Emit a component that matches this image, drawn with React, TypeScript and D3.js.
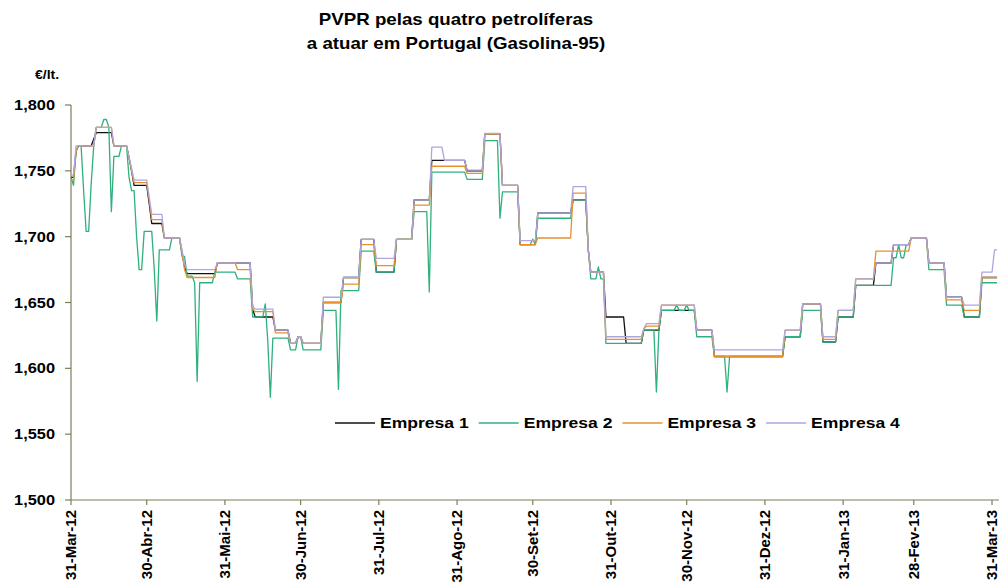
import * as d3 from 'd3';

// ── Layout ────────────────────────────────────────────────────────────────────
const VW = 999;
const VH = 587;
const X_LEFT = 71;
const X_RIGHT = 992;
const Y_TOP = 105;
const Y_BOT = 500;
const SX = 1.17; // the source picture is stretched a bit horizontally
const FONT = '"Liberation Sans", Arial, sans-serif';
const AXIS = '#7d7d5c';

// ── Data: [days after 31-Mar-12, €/lt] at each price change ──────────────────
const START = new Date(2012, 2, 31);
const END_DAY = 367;

const EMPRESA_1: [number, number][] = [
  [0, 1.745], [2, 1.765], [3, 1.769], [9, 1.774], [10, 1.779], [17, 1.769], [23, 1.76], [24, 1.75],
  [25, 1.739], [31, 1.725], [32, 1.71], [37, 1.699], [44, 1.688], [45, 1.677], [46, 1.672], [58, 1.68],
  [72, 1.645], [73, 1.639], [81, 1.629], [87, 1.619], [90, 1.624], [92, 1.619], [100, 1.65], [108, 1.669],
  [115, 1.698], [121, 1.673], [129, 1.698], [136, 1.728], [143, 1.758], [157, 1.75], [164, 1.778],
  [171, 1.739], [178, 1.694], [185, 1.718], [199, 1.728], [205, 1.69], [206, 1.673], [212, 1.639],
  [220, 1.619], [227, 1.629], [234, 1.644], [248, 1.629], [255, 1.609], [283, 1.624], [290, 1.649],
  [298, 1.62], [304, 1.639], [311, 1.663], [319, 1.68], [326, 1.694], [333, 1.699], [340, 1.68],
  [347, 1.654], [354, 1.639], [361, 1.669],
];

const EMPRESA_2: [number, number][] = [
  [0, 1.745], [1, 1.739], [2, 1.765], [3, 1.769], [5, 1.735], [6, 1.704], [8, 1.74], [9, 1.769],
  [10, 1.783], [13, 1.789], [15, 1.783], [16, 1.719], [17, 1.761], [20, 1.769], [23, 1.745], [24, 1.735],
  [26, 1.7], [27, 1.675], [29, 1.704], [33, 1.675], [34, 1.636], [35, 1.69], [40, 1.699], [44, 1.685],
  [46, 1.67], [49, 1.665], [50, 1.59], [51, 1.665], [57, 1.673], [66, 1.668], [72, 1.639], [77, 1.649],
  [78, 1.62], [79, 1.578], [80, 1.623], [87, 1.614], [90, 1.624], [92, 1.614], [100, 1.644], [106, 1.584],
  [107, 1.659], [115, 1.689], [121, 1.673], [129, 1.698], [136, 1.719], [142, 1.658], [143, 1.749],
  [157, 1.7435], [164, 1.773], [170, 1.714], [171, 1.734], [178, 1.694], [183, 1.698], [184, 1.694],
  [185, 1.714], [199, 1.728], [205, 1.69], [206, 1.668], [209, 1.677], [210, 1.668], [212, 1.619],
  [227, 1.629], [232, 1.582], [233, 1.629], [234, 1.644], [240, 1.648], [241, 1.644], [244, 1.648],
  [245, 1.644], [248, 1.624], [255, 1.609], [260, 1.582], [261, 1.609], [283, 1.624], [290, 1.644],
  [298, 1.62], [304, 1.639], [311, 1.663], [326, 1.684], [328, 1.694], [329, 1.684], [331, 1.694],
  [333, 1.699], [340, 1.675], [347, 1.648], [354, 1.639], [361, 1.665],
];

const EMPRESA_3: [number, number][] = [
  [0, 1.743], [2, 1.765], [3, 1.769], [10, 1.783], [17, 1.769], [23, 1.76], [24, 1.75], [25, 1.741],
  [31, 1.728], [32, 1.713], [37, 1.699], [44, 1.688], [45, 1.675], [46, 1.669], [58, 1.68], [66, 1.675],
  [72, 1.645], [73, 1.643], [81, 1.627], [87, 1.619], [90, 1.624], [92, 1.619], [100, 1.65], [108, 1.664],
  [115, 1.694], [121, 1.678], [129, 1.698], [136, 1.724], [143, 1.7535], [157, 1.748], [164, 1.778],
  [171, 1.739], [178, 1.694], [185, 1.699], [199, 1.733], [205, 1.69], [206, 1.673], [212, 1.622],
  [227, 1.63], [228, 1.632], [234, 1.648], [248, 1.629], [255, 1.609], [283, 1.629], [290, 1.649],
  [298, 1.622], [304, 1.644], [311, 1.668], [319, 1.689], [333, 1.699], [340, 1.68], [347, 1.652],
  [354, 1.644], [361, 1.669],
];

const EMPRESA_4: [number, number][] = [
  [0, 1.747], [2, 1.769], [10, 1.783], [17, 1.769], [23, 1.76], [24, 1.752], [25, 1.743], [31, 1.73],
  [32, 1.717], [37, 1.699], [44, 1.69], [45, 1.679], [46, 1.675], [58, 1.68], [72, 1.647], [73, 1.645],
  [81, 1.629], [87, 1.619], [90, 1.624], [92, 1.619], [100, 1.654], [108, 1.669], [115, 1.698],
  [121, 1.6835], [129, 1.698], [136, 1.728], [143, 1.768], [148, 1.758], [157, 1.7505], [164, 1.7785],
  [171, 1.739], [178, 1.697], [185, 1.718], [199, 1.738], [205, 1.69], [206, 1.673], [212, 1.624],
  [227, 1.63], [228, 1.634], [234, 1.648], [248, 1.629], [255, 1.614], [283, 1.629], [290, 1.649],
  [298, 1.624], [304, 1.644], [311, 1.668], [319, 1.68], [326, 1.694], [333, 1.699], [340, 1.68],
  [347, 1.654], [354, 1.648], [361, 1.673], [366, 1.69],
];

const SERIES_NAMES = ['Empresa 1', 'Empresa 2', 'Empresa 3', 'Empresa 4'];
const SERIES_DATA = [EMPRESA_1, EMPRESA_2, EMPRESA_3, EMPRESA_4];
const SERIES_COLORS = ['#111111', '#2fb07c', '#e8902e', '#aea6dc'];

const Y_TICKS = [1.5, 1.55, 1.6, 1.65, 1.7, 1.75, 1.8];
const X_TICK_DATES = [
  '2012-03-31', '2012-04-30', '2012-05-31', '2012-06-30', '2012-07-31', '2012-08-31', '2012-09-30',
  '2012-10-31', '2012-11-30', '2012-12-31', '2013-01-31', '2013-02-28', '2013-03-31',
];
const X_TICK_LABELS = [
  '31-Mar-12', '30-Abr-12', '31-Mai-12', '30-Jun-12', '31-Jul-12', '31-Ago-12', '30-Set-12',
  '31-Out-12', '30-Nov-12', '31-Dez-12', '31-Jan-13', '28-Fev-13', '31-Mar-13',
];

// ── Scales ────────────────────────────────────────────────────────────────────
const parse = d3.timeParse('%Y-%m-%d');
const dayDate = (d: number) => d3.timeDay.offset(START, d);
const x = d3.scaleTime().domain([START, parse('2013-03-31') as Date]).range([X_LEFT, X_RIGHT]);
const y = d3.scaleLinear().domain([1.5, 1.8]).range([Y_BOT, Y_TOP]);
const fmtY = (v: number) => d3.format('.3f')(v).replace('.', ',');

// change points -> path points; each change takes one day (like the daily source series)
function stepPoints(pts: [number, number][]): [number, number][] {
  const out: [number, number][] = [];
  pts.forEach(([d, v], i) => {
    if (i > 0) out.push([d - 1, pts[i - 1][1]]);
    out.push([d, v]);
  });
  out.push([END_DAY, pts[pts.length - 1][1]]);
  return out;
}

const line = d3.line<[number, number]>()
  .x(p => x(dayDate(p[0])))
  .y(p => y(p[1]));

export default function App() {
  return (
    <svg
      width={VW}
      height={VH}
      viewBox={`0 0 ${VW} ${VH}`}
      style={{ position: 'absolute', left: 0, top: 0, background: '#fff' }}
      fontFamily={FONT}
    >
      {/* Title */}
      <g fontWeight={700} fontSize={16} textAnchor="middle" fill="#000">
        <text transform={`translate(456,25) scale(${SX},1)`}>PVPR pelas quatro petrolíferas</text>
        <text transform={`translate(456,49) scale(${SX},1)`}>a atuar em Portugal (Gasolina-95)</text>
      </g>
      <text transform={`translate(35,79) scale(${SX},1)`} fontSize={12} fontWeight={700}>€/lt.</text>

      {/* Y axis */}
      <line x1={X_LEFT} x2={X_LEFT} y1={Y_TOP} y2={Y_BOT} stroke={AXIS} strokeWidth={1.2} />
      {Y_TICKS.map(v => (
        <g key={v}>
          <line x1={X_LEFT - 6} x2={X_LEFT} y1={y(v)} y2={y(v)} stroke={AXIS} strokeWidth={1.2} />
          <text
            transform={`translate(55,${y(v)}) scale(${SX},1)`}
            dy="0.36em" textAnchor="end" fontSize={14} fontWeight={700}
          >
            {fmtY(v)}
          </text>
        </g>
      ))}

      {/* X axis */}
      <line x1={X_LEFT} x2={VW} y1={Y_BOT} y2={Y_BOT} stroke={AXIS} strokeWidth={1.2} />
      {X_TICK_DATES.map((s, i) => {
        const tx = x(parse(s) as Date);
        return (
          <g key={s}>
            <line x1={tx} x2={tx} y1={Y_BOT} y2={Y_BOT + 5} stroke={AXIS} strokeWidth={1.2} />
            <text
              transform={`translate(${tx},${Y_BOT + 10}) rotate(-90)`}
              dy="0.36em" textAnchor="end" fontSize={15} fontWeight={700}
            >
              {X_TICK_LABELS[i]}
            </text>
          </g>
        );
      })}

      {/* Series */}
      {SERIES_DATA.map((pts, i) => (
        <path
          key={SERIES_NAMES[i]}
          d={line(stepPoints(pts)) ?? ''}
          fill="none"
          stroke={SERIES_COLORS[i]}
          strokeWidth={1.3}
          strokeLinejoin="round"
        />
      ))}

      {/* Legend */}
      {SERIES_NAMES.map((name, i) => {
        const lx = 335 + i * 143.7;
        return (
          <g key={name}>
            <line x1={lx} x2={lx + 40} y1={423} y2={423} stroke={SERIES_COLORS[i]} strokeWidth={1.5} />
            <text
              transform={`translate(${lx + 45},423) scale(${SX},1)`}
              dy="0.36em" fontSize={15} fontWeight={700}
            >
              {name}
            </text>
          </g>
        );
      })}
    </svg>
  );
}
